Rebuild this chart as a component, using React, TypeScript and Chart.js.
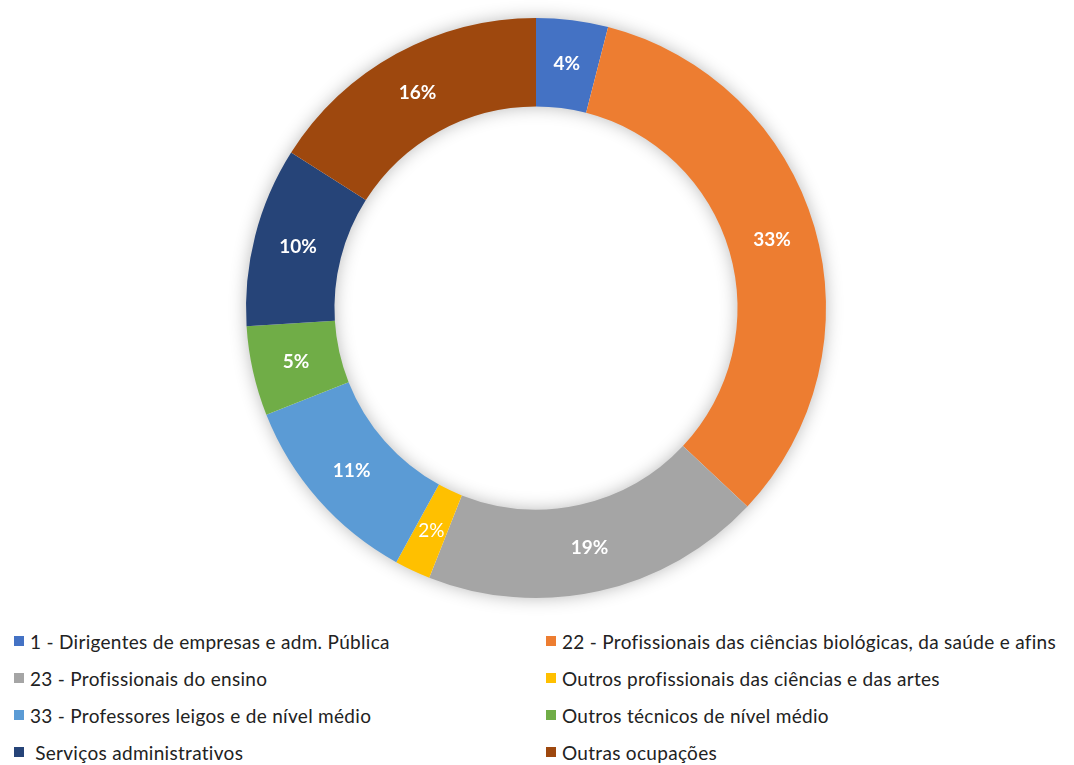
import React, { useEffect, useRef } from "react";
import { Chart, registerables } from "chart.js";

Chart.register(...registerables);

const categories = [
  "1 - Dirigentes de empresas e adm. Pública",
  "22 - Profissionais das ciências biológicas, da saúde e afins",
  "23 - Profissionais do ensino",
  "Outros profissionais das ciências e das artes",
  "33 - Professores leigos e de nível médio",
  "Outros técnicos de nível médio",
  " Serviços administrativos",
  "Outras ocupações",
];
const values = [4, 33, 19, 2, 11, 5, 10, 16];
const colors = ["#4472C4", "#ED7D31", "#A5A5A5", "#FFC000", "#5B9BD5", "#70AD47", "#264478", "#9E480E"];
const boldLabel = [true, true, true, false, true, true, true, true];

const ringShadow = {
  id: "ringShadow",
  beforeDatasetsDraw(chart: any) {
    const meta = chart.getDatasetMeta(0);
    const arc = meta.data[0];
    if (!arc) return;
    const { x, y, outerRadius, innerRadius } = arc.getProps(["x", "y", "outerRadius", "innerRadius"], true);
    const ctx = chart.ctx;
    ctx.save();
    ctx.shadowColor = "rgba(0,0,0,0.3)";
    ctx.shadowBlur = 18;
    ctx.fillStyle = "#ffffff";
    ctx.beginPath();
    ctx.arc(x, y, outerRadius - 1, 0, Math.PI * 2);
    ctx.arc(x, y, innerRadius + 1, 0, Math.PI * 2, true);
    ctx.closePath();
    ctx.fill();
    ctx.restore();
  },
};

const sliceLabels = {
  id: "sliceLabels",
  afterDatasetsDraw(chart: any) {
    const ctx = chart.ctx;
    const meta = chart.getDatasetMeta(0);
    ctx.save();
    ctx.fillStyle = "#ffffff";
    ctx.textAlign = "center";
    ctx.textBaseline = "middle";
    meta.data.forEach((el: any, i: number) => {
      const p = el.tooltipPosition();
      ctx.font = (boldLabel[i] ? "bold " : "") + "19px Lato, 'Open Sans', sans-serif";
      ctx.fillText(values[i] + "%", p.x, p.y);
    });
    ctx.restore();
  },
};

export default function App() {
  const ref = useRef<HTMLCanvasElement>(null);
  useEffect(() => {
    if (!ref.current) return;
    const chart = new Chart(ref.current, {
      type: "doughnut",
      data: {
        labels: categories,
        datasets: [
          {
            data: values,
            backgroundColor: colors,
            borderWidth: 0,
          },
        ],
      },
      options: {
        responsive: false,
        animation: false,
        cutout: "69.5%",
        layout: { padding: { top: 18, bottom: 18, left: 0, right: 2 } },
        plugins: {
          legend: { display: false },
          tooltip: { enabled: false },
        },
      },
      plugins: [ringShadow, sliceLabels],
    });
    return () => chart.destroy();
  }, []);

  return (
    <div style={{ position: "absolute", left: 0, top: 0, width: 1074, height: 765, background: "#fff" }}>
      <canvas ref={ref} width={1074} height={616} style={{ position: "absolute", left: 0, top: 0 }} />
      {categories.map((c, i) => {
        const col = i % 2;
        const row = Math.floor(i / 2);
        return (
          <div
            key={i}
            style={{
              position: "absolute",
              left: col === 0 ? 14 : 546,
              top: 641 + row * 37 - 12,
              height: 24,
              display: "flex",
              alignItems: "center",
              fontFamily: "Lato, 'Open Sans', sans-serif",
              fontSize: 19,
              letterSpacing: 0.3,
              color: "#222",
              whiteSpace: "pre",
            }}
          >
            <span style={{ display: "inline-block", width: 10, height: 10, background: colors[i], marginRight: 6 }} />
            <span>{c}</span>
          </div>
        );
      })}
    </div>
  );
}
